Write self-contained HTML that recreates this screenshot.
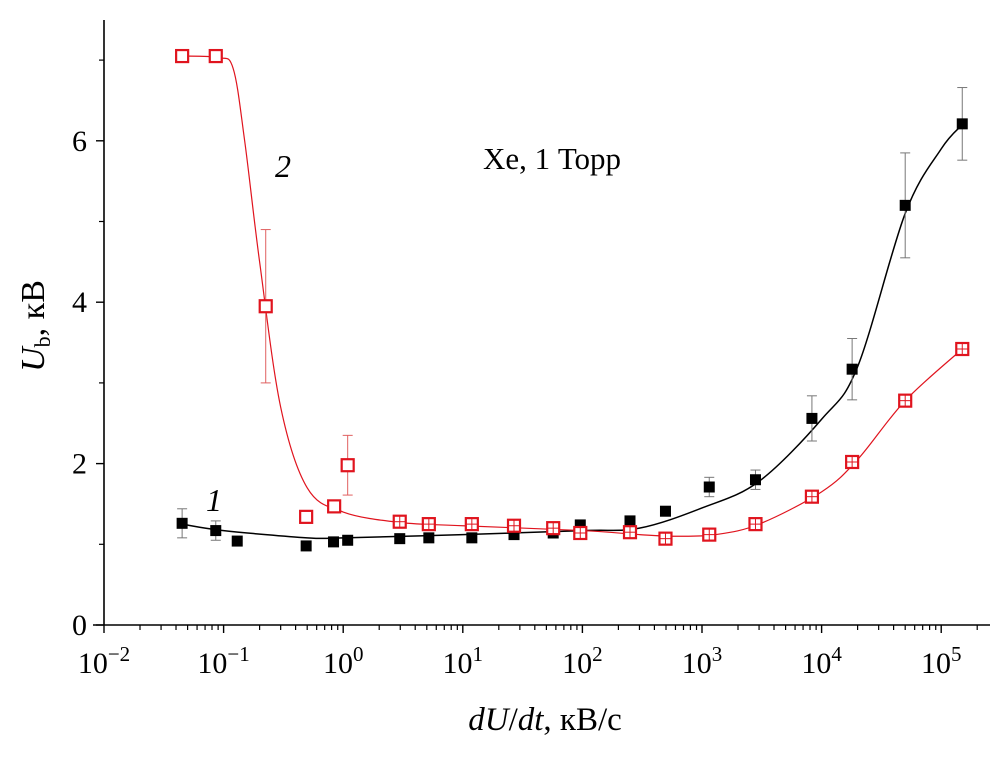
<!DOCTYPE html>
<html><head><meta charset="utf-8"><style>
body{margin:0;background:#fff}
svg{display:block;font-family:"Liberation Serif",serif}
</style></head><body>
<svg id="chart" width="1004" height="761" viewBox="0 0 1004 761"></svg>
<script>
const s1X=[0.045,0.086,0.13,0.49,0.83,1.09,2.97,5.2,11.9,26.8,57,96,250,495,1150,2800,8300,18000,50000,150000];
const s1Y=[1.26,1.17,1.04,0.98,1.03,1.05,1.07,1.08,1.08,1.12,1.14,1.24,1.29,1.41,1.71,1.80,2.56,3.17,5.2,6.21];
const s1Err=[0.18,0.12,0,0,0,0,0,0,0,0,0,0,0,0,0.12,0.12,0.28,0.38,0.65,0.45];
const s2X=[0.045,0.086,0.225,0.49,0.84,1.09,2.97,5.2,11.9,26.8,57,96,250,495,1150,2800,8300,18000,50000,150000];
const s2Y=[7.05,7.05,3.95,1.34,1.47,1.98,1.28,1.25,1.25,1.23,1.20,1.14,1.15,1.07,1.12,1.25,1.59,2.02,2.78,3.42];
const s2Err=[0,0,0.95,0,0,0.37,0,0,0,0,0,0,0,0,0,0,0,0,0,0];
const fit1X=[0.045,0.1,0.5,1,10,100,300,1000,3000,10000,20000,50000,100000,150000];
const fit1Y=[1.25,1.17,1.08,1.08,1.12,1.17,1.2,1.45,1.78,2.55,3.2,5.1,5.9,6.2];
const fit2X=[0.045,0.09,0.12,0.15,0.2,0.3,0.5,1,3,10,100,300,600,1300,3000,10000,20000,50000,150000];
const fit2Y=[7.05,7.03,6.9,6.0,4.5,2.7,1.7,1.4,1.27,1.23,1.17,1.12,1.1,1.12,1.25,1.65,2.05,2.78,3.42];
const xTicks=[-2,-1,0,1,2,3,4,5];
const yTicks=[0,2,4,6];

const NS="http://www.w3.org/2000/svg";
const svg=document.getElementById('chart');
const X=v=>104+(Math.log10(v)+2)*119.6;
const Y=v=>625-v*80.7;
function el(t,a,p){const e=document.createElementNS(NS,t);for(const k in a)e.setAttribute(k,a[k]);(p||svg).appendChild(e);return e;}
let ax=el('line',{x1:104,y1:20,x2:104,y2:625,stroke:'#000','stroke-width':1.6});


let bx=el('line',{x1:93,y1:625,x2:990,y2:625,stroke:'#000','stroke-width':1.6});


for(const d of xTicks){
  const x=X(Math.pow(10,d));
  el('line',{x1:x,y1:625,x2:x,y2:633,stroke:'#000','stroke-width':1.4});
  const t=el('text',{x:x,y:673,'font-size':30,'text-anchor':'middle'});
  
  
  t.innerHTML='10<tspan dy="-12" font-size="21">'+(d<0?'\u2212'+(-d):d)+'</tspan>';
  if(d<5){for(let m=2;m<=9;m++){const xm=X(m*Math.pow(10,d));el('line',{x1:xm,y1:625,x2:xm,y2:630,stroke:'#000','stroke-width':1.2});}}
}
for(let m=2;m<=3;m++){const xm=X(m*1e5);if(xm<990)el('line',{x1:xm,y1:625,x2:xm,y2:630,stroke:'#000','stroke-width':1.2});}
for(const v of yTicks){
  const y=Y(v);
  el('line',{x1:96,y1:y,x2:104,y2:y,stroke:'#000','stroke-width':1.4});
  const t=el('text',{x:87,y:y+10,'font-size':30,'text-anchor':'end'});
  
  
  t.textContent=v;
}
for(const v of [1,3,5,7]){const y=Y(v);el('line',{x1:99,y1:y,x2:104,y2:y,stroke:'#000','stroke-width':1.2});}
let xt=el('text',{x:545,y:730,'font-size':33,'text-anchor':'middle'});


xt.innerHTML='<tspan font-style="italic">dU</tspan>/<tspan font-style="italic">dt</tspan>, кВ/с';
let yt=el('text',{transform:'translate(44,326) rotate(-90)','font-size':34,'text-anchor':'middle'});


yt.innerHTML='<tspan font-style="italic">U</tspan><tspan font-size="22" dy="6">b</tspan><tspan dy="-6">, кВ</tspan>';
let an=el('text',{x:483,y:169,'font-size':31});


an.textContent='Xe, 1 Торр';
let l1=el('text',{x:206,y:511,'font-size':32,'font-style':'italic'});


l1.textContent='1';
let l2=el('text',{x:275,y:177,'font-size':32,'font-style':'italic'});


l2.textContent='2';
function smooth(xs,ys){
  const p=xs.map((x,i)=>[X(x),Y(ys[i])]);
  let d='M'+p[0][0]+','+p[0][1];
  for(let i=0;i<p.length-1;i++){
    const p0=p[Math.max(0,i-1)],p1=p[i],p2=p[i+1],p3=p[Math.min(p.length-1,i+2)];
    const c1=[p1[0]+(p2[0]-p0[0])/6,p1[1]+(p2[1]-p0[1])/6];
    const c2=[p2[0]-(p3[0]-p1[0])/6,p2[1]-(p3[1]-p1[1])/6];
    d+=' C'+c1+' '+c2+' '+p2;
  }
  return d;
}
let f1=el('path',{d:smooth(fit1X,fit1Y),fill:'none',stroke:'#000','stroke-width':1.5});


let f2=el('path',{d:smooth(fit2X,fit2Y),fill:'none',stroke:'#e0141e','stroke-width':1.2});


function errs(xs,ys,es,col){
  xs.forEach((x,i)=>{if(!es[i])return;const cx=X(x),y1=Y(ys[i]+es[i]),y2=Y(ys[i]-es[i]);
    el('line',{x1:cx,y1:y1,x2:cx,y2:y2,stroke:col,'stroke-width':1});
    el('line',{x1:cx-5,y1:y1,x2:cx+5,y2:y1,stroke:col,'stroke-width':1});
    el('line',{x1:cx-5,y1:y2,x2:cx+5,y2:y2,stroke:col,'stroke-width':1});});
}
errs(s1X,s1Y,s1Err,'#777');
errs(s2X,s2Y,s2Err,'#e06060');
s1X.forEach((x,i)=>{
  const r=el('rect',{x:X(x)-5.5,y:Y(s1Y[i])-5.5,width:11,height:11,fill:'#000'});
  
  
});
s2X.forEach((x,i)=>{
  const cx=X(x),cy=Y(s2Y[i]);
  const r=el('rect',{x:cx-6,y:cy-6,width:12,height:12,fill:'#fff',stroke:'#e0141e','stroke-width':2.2});
  
  
  if(i>=6){
    el('line',{x1:cx,y1:cy-6,x2:cx,y2:cy+6,stroke:'#e0141e','stroke-width':1});
    el('line',{x1:cx-6,y1:cy,x2:cx+6,y2:cy,stroke:'#e0141e','stroke-width':1});
  }
});
</script>
</body></html>
